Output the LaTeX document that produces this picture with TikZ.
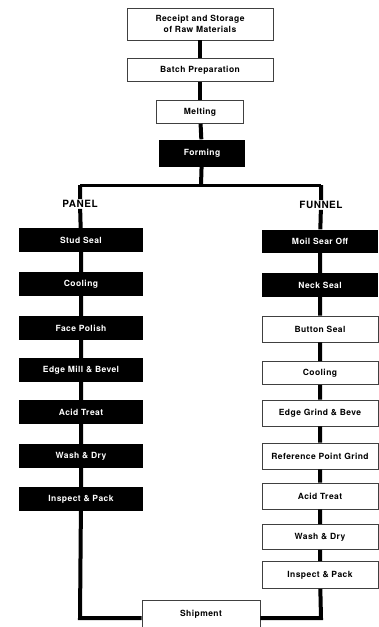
\documentclass[tikz,border=0pt]{standalone}
\usepackage{fontspec}
\setmainfont{TeX Gyre Heros}
\newfontfamily\boxfont[LetterSpace=5]{TeX Gyre Heros}
\begin{document}
\begin{tikzpicture}[x=1pt,y=-1pt,line join=miter,
	whitebox/.style={draw=black!75,line width=0.6pt,inner sep=0pt,align=center,font=\boxfont\bfseries\fontsize{8.5}{11}\selectfont},
	blackbox/.style={fill=black,text=white,minimum width=124pt,minimum height=24pt,inner sep=0pt,font=\boxfont\bfseries\fontsize{8.5}{9}\selectfont},
	funnelbox/.style={whitebox,minimum width=116pt,minimum height=26pt},
	branch/.style={inner sep=1pt,fill=white,font=\boxfont\bfseries\fontsize{10}{11}\selectfont},
	flow/.style={line width=4pt},
	bar/.style={line width=3pt}]
	\useasboundingbox (0,0) rectangle (378,627);
	% common part
	\node[whitebox,minimum width=146pt,minimum height=32pt] (receipt) at (200,24) {Receipt and Storage\\of Raw Materials};
	\node[whitebox,minimum width=146pt,minimum height=23pt] (batch) at (200,70) {Batch Preparation};
	\node[whitebox,minimum width=87pt,minimum height=23pt] (melting) at (200,112) {Melting};
	\node[blackbox,minimum width=86pt,minimum height=27pt] (forming) at (202,153) {Forming};
	\coordinate (split) at (201,185);
	\coordinate (pleft) at (80,185);
	\coordinate (fright) at (321,185);
	\draw[flow] (receipt) -- (batch);
	\draw[flow] (batch) -- (melting);
	\draw[flow] (melting) -- (forming);
	\draw[flow] (forming) -- (split);
	\draw[bar] (pleft) -- (fright);
	% panel
	\node[branch] (panel) at (80,204) {PANEL};
	\node[blackbox] (studseal) at (81,240) {Stud Seal};
	\node[blackbox] (pcooling) at (81,284) {Cooling};
	\node[blackbox] (facepolish) at (81,328) {Face Polish};
	\node[blackbox] (edgemill) at (81,370) {Edge Mill \& Bevel};
	\node[blackbox] (pacid) at (81,412) {Acid Treat};
	\node[blackbox] (pwash) at (81,456) {Wash \& Dry};
	\node[blackbox] (pinspect) at (81,499) {Inspect \& Pack};
	\draw[flow] (pleft) -- (panel) -- (studseal) -- (pcooling) -- (facepolish) -- (edgemill) -- (pacid) -- (pwash) -- (pinspect);
	% funnel
	\node[branch] (funnel) at (321,205) {FUNNEL};
	\node[blackbox,minimum width=116pt,minimum height=23pt] (moil) at (320,241) {Moil Sear Off};
	\node[blackbox,minimum width=116pt,minimum height=24pt] (neckseal) at (320,285) {Neck Seal};
	\node[funnelbox] (button) at (320,329) {Button Seal};
	\node[funnelbox,minimum height=23pt] (fcooling) at (320,373) {Cooling};
	\node[funnelbox] (edgegrind) at (320,413) {Edge Grind \& Beve};
	\node[funnelbox] (refpoint) at (320,456) {Reference Point Grind};
	\node[funnelbox] (facid) at (320,496) {Acid Treat};
	\node[funnelbox,minimum height=25pt] (fwash) at (320,537) {Wash \& Dry};
	\node[funnelbox,minimum height=27pt] (finspect) at (320,575) {Inspect \& Pack};
	\draw[flow] (fright) -- (funnel) -- (moil) -- (neckseal) -- (button) -- (fcooling) -- (edgegrind) -- (refpoint) -- (facid) -- (fwash) -- (finspect);
	% shipment
	\node[whitebox,minimum width=118pt,minimum height=28pt] (shipment) at (201,614) {Shipment};
	\coordinate (pcorner) at (80,618);
	\coordinate (fcorner) at (321,618);
	\draw[flow] (pinspect) -- (pcorner) -- (pcorner -| shipment.west);
	\draw[flow] (finspect) -- (fcorner) -- (fcorner -| shipment.east);
\end{tikzpicture}
\end{document}
